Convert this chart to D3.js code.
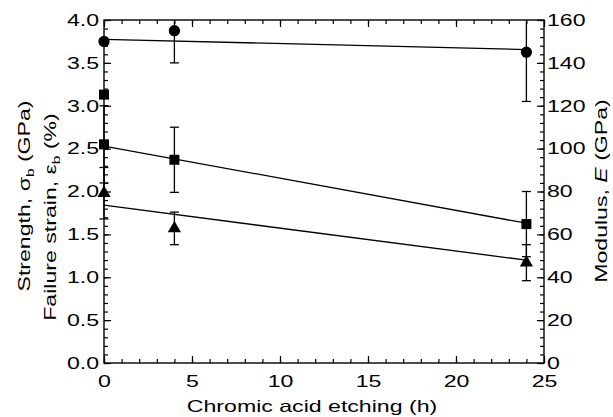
<html>
<head>
<script src="https://d3js.org/d3.v7.min.js"></script>
<style>
  body { margin: 0; background: #fff; }
  text { font-family: "Liberation Sans", Arial, sans-serif; fill: #000; }
</style>
</head>
<body>
<svg id="chart" width="613" height="417"></svg>
<script>
var modulusTime = [0, 4, 24]
var modulusVal = [150, 155, 145]
var modulusErr = [0, 15, 23]
var modulusFit = [151, -0.2]        // intercept, slope (GPa / h)

var strengthTime = [0, 0, 4, 24]
var strengthVal = [3.13, 2.55, 2.37, 1.62]
var strengthErr = [0, 0.45, 0.38, 0.38]
var strengthFit = [2.53, -0.0375]

var strainTime = [0, 4, 24]
var strainVal = [1.98, 1.57, 1.17]
var strainErr = [0.3, 0.19, 0.21]
var strainFit = [1.84, -0.0267]

var xTicks = [0, 5, 10, 15, 20, 25]
var leftTicks = [0, 0.5, 1, 1.5, 2, 2.5, 3, 3.5, 4]
var rightTicks = [0, 20, 40, 60, 80, 100, 120, 140, 160]

var svg = d3.select('#chart')
var stretchK = 1.4
var fs = 16.5

var x = d3.scaleLinear().domain([0, 25]).range([104, 544])
var yL = d3.scaleLinear().domain([0, 4]).range([363, 20])
var yR = d3.scaleLinear().domain([0, 160]).range([363, 20])

// frame
svg.append('rect')
    .attr('x', x(0)).attr('y', yL(4))
    .attr('width', x(25) - x(0)).attr('height', yL(0) - yL(4))
    .attr('fill', 'none').attr('stroke', '#000').attr('stroke-width', 1.4)

function styleAxis(g) {
    g.select('.domain').remove()
    g.selectAll('line').attr('stroke', '#000').attr('stroke-width', 1.2)
    g.selectAll('text').style('font-size', fs + 'px')
}

// bottom axis
svg.append('g').attr('transform', 'translate(0,' + yL(0) + ')')
    .call(d3.axisBottom(x).tickValues(d3.range(0, 26, 1)).tickSize(-4).tickFormat(''))
    .call(styleAxis)
svg.append('g').attr('class', 'lab').attr('transform', 'translate(0,' + yL(0) + ')')
    .call(d3.axisBottom(x).tickValues(xTicks).tickSize(-7).tickPadding(12).tickFormat(d3.format('d')))
    .call(styleAxis)
// top axis
svg.append('g').attr('transform', 'translate(0,' + yL(4) + ')')
    .call(d3.axisTop(x).tickValues(d3.range(0, 26, 1)).tickSize(-4).tickFormat(''))
    .call(styleAxis)
svg.append('g').attr('transform', 'translate(0,' + yL(4) + ')')
    .call(d3.axisTop(x).tickValues(xTicks).tickSize(-7).tickFormat(''))
    .call(styleAxis)

// left axis
svg.append('g').attr('transform', 'translate(' + x(0) + ',0)')
    .call(d3.axisLeft(yL).tickValues(d3.range(0, 4.01, 0.1)).tickSize(-4).tickFormat(''))
    .call(styleAxis)
svg.append('g').attr('class', 'lab').attr('transform', 'translate(' + x(0) + ',0)')
    .call(d3.axisLeft(yL).tickValues(leftTicks).tickSize(-7).tickPadding(5).tickFormat(d3.format('.1f')))
    .call(styleAxis)

// right axis
svg.append('g').attr('transform', 'translate(' + x(25) + ',0)')
    .call(d3.axisRight(yR).tickValues(d3.range(0, 161, 4)).tickSize(-4).tickFormat(''))
    .call(styleAxis)
svg.append('g').attr('class', 'lab').attr('transform', 'translate(' + x(25) + ',0)')
    .call(d3.axisRight(yR).tickValues(rightTicks).tickSize(-7).tickPadding(3).tickFormat(d3.format('d')))
    .call(styleAxis)

// clip for error bars
svg.append('clipPath').attr('id', 'plotclip').append('rect')
    .attr('x', x(0) - 10).attr('y', yL(4))
    .attr('width', x(25) - x(0) + 20).attr('height', yL(0) - yL(4))

var plot = svg.append('g').attr('clip-path', 'url(#plotclip)')

function fitLine(fit, y) {
    plot.append('line')
        .attr('x1', x(0)).attr('y1', y(fit[0]))
        .attr('x2', x(24)).attr('y2', y(fit[0] + fit[1] * 24))
        .attr('stroke', '#000').attr('stroke-width', 1.3)
}
fitLine(modulusFit, yR)
fitLine(strengthFit, yL)
fitLine(strainFit, yL)

function errBars(ts, vs, es, y) {
    var d = ts.map(function(t, i) { return { t: t, v: vs[i], e: es[i] } }).filter(function(d) { return d.e > 0 })
    var g = plot.append('g').attr('stroke', '#000').attr('stroke-width', 1.3)
    d.forEach(function(p) {
        g.append('line').attr('x1', x(p.t)).attr('x2', x(p.t))
            .attr('y1', y(p.v - p.e)).attr('y2', y(p.v + p.e))
        g.append('line').attr('x1', x(p.t) - 4.5).attr('x2', x(p.t) + 4.5)
            .attr('y1', y(p.v - p.e)).attr('y2', y(p.v - p.e))
        g.append('line').attr('x1', x(p.t) - 4.5).attr('x2', x(p.t) + 4.5)
            .attr('y1', y(p.v + p.e)).attr('y2', y(p.v + p.e))
    })
}
errBars(modulusTime, modulusVal, modulusErr, yR)
errBars(strengthTime, strengthVal, strengthErr, yL)
errBars(strainTime, strainVal, strainErr, yL)

function markers(ts, vs, y, type, size) {
    svg.append('g').selectAll('path')
        .data(ts.map(function(t, i) { return [t, vs[i]] }))
        .enter().append('path')
        .attr('d', d3.symbol().type(type).size(size))
        .attr('transform', function(d) { return 'translate(' + x(d[0]) + ',' + y(d[1]) + ')' })
        .attr('fill', '#000')
}
markers(modulusTime, modulusVal, yR, d3.symbolCircle, 100)
markers(strengthTime, strengthVal, yL, d3.symbolSquare, 100)
markers(strainTime, strainVal, yL, d3.symbolTriangle, 75)

// axis titles
svg.append('text')
    .attr('text-anchor', 'middle')
    .attr('transform', 'translate(312,411.5)')
    .style('font-size', fs + 'px')
    .text('Chromic acid etching (h)')

var t1 = svg.append('text')
    .attr('text-anchor', 'middle')
    .attr('transform', 'translate(30,196) rotate(-90)')
    .style('font-size', fs + 'px')
t1.append('tspan').text('Strength, σ')
t1.append('tspan').attr('dy', 4).style('font-size', '11px').text('b')
t1.append('tspan').attr('dy', -4).text(' (GPa)')

var t2 = svg.append('text')
    .attr('text-anchor', 'middle')
    .attr('transform', 'translate(55.5,217) rotate(-90)')
    .style('font-size', fs + 'px')
t2.append('tspan').text('Failure strain, ε')
t2.append('tspan').attr('dy', 4).style('font-size', '11px').text('b')
t2.append('tspan').attr('dy', -4).text('  (%)')

var t3 = svg.append('text')
    .attr('text-anchor', 'middle')
    .attr('transform', 'translate(607,191) rotate(-90)')
    .style('font-size', fs + 'px')
t3.append('tspan').text('Modulus, ')
t3.append('tspan').style('font-style', 'italic').text('E')
t3.append('tspan').text(' (GPa)')

// the original lettering is very wide: stretch every label along its run
svg.selectAll('text').each(function() {
    var w = this.getComputedTextLength()
    if (w > 0) {
        d3.select(this).attr('textLength', w * stretchK).attr('lengthAdjust', 'spacingAndGlyphs')
    }
})
</script>
</body>
</html>
